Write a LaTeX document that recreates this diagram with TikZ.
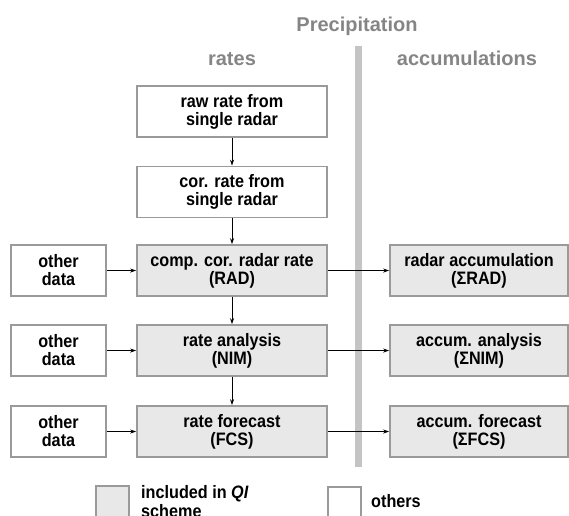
\documentclass[tikz,border=0pt]{standalone}
\usepackage{fontspec}
\setmainfont{Liberation Sans}
\newfontfamily\boxfont{Liberation Sans}[FakeStretch=0.9]
\usetikzlibrary{arrows.meta}
\definecolor{qifill}{HTML}{E8E8E8}
\definecolor{boxline}{HTML}{9A9A9A}
\definecolor{headgray}{HTML}{858585}
\definecolor{barcol}{HTML}{C4C4C4}
\tikzset{
  flowbox/.style = {draw=boxline, line width=1.6pt, minimum width=#1,
                    minimum height=51pt, inner sep=0pt, align=center,
                    font=\boxfont\bfseries\fontsize{18}{18}\selectfont},
  flowbox/.default = 190pt,
  qibox/.style = {flowbox=#1, fill=qifill},
  qibox/.default = 190pt,
  head/.style = {text=headgray, anchor=base, font=\bfseries\fontsize{20}{22}\selectfont},
  flow/.style = {-{Stealth[length=6pt,width=4pt]}, line width=0.8pt}
}
\begin{document}
\begin{tikzpicture}[x=1pt, y=-1pt]
	\useasboundingbox (0,0) rectangle (569,515);

	% Headings
	\node[head] (prec) at (357,31) {Precipitation};
	\node[head] (rates) at (232,65) {rates};
	\node[head] (accu) at (467,65) {accumulations};

	% Separator
	\fill[barcol] (355,46) rectangle (362,467);

	% Rates column
	\node[flowbox] (raw) at (232,111.5) {raw rate from\\single radar};
	\node[flowbox] (cor) at (232,192) {cor. rate from\\single radar};
	\node[qibox] (rad) at (232,270.5) {comp. cor. radar rate\\(RAD)};
	\node[qibox] (nim) at (232,350.5) {rate analysis\\(NIM)};
	\node[qibox] (fcs) at (232,431.5) {rate forecast\\(FCS)};

	% Other data
	\node[flowbox=95pt] (oth1) at (58.5,270.5) {other\\data};
	\node[flowbox=95pt] (oth2) at (58.5,350.5) {other\\data};
	\node[flowbox=95pt] (oth3) at (58.5,431.5) {other\\data};

	% Accumulations column
	\node[qibox=178pt] (srad) at (479,270.5) {radar accumulation\\(ΣRAD)};
	\node[qibox=178pt] (snim) at (479,350.5) {accum. analysis\\(ΣNIM)};
	\node[qibox=178pt] (sfcs) at (479,431.5) {accum. forecast\\(ΣFCS)};

	% Arrows
	\draw[flow] (raw) -- (cor);
	\draw[flow] (cor) -- (rad);
	\draw[flow] (rad) -- (nim);
	\draw[flow] (nim) -- (fcs);
	\draw[flow] (oth1) -- (rad);
	\draw[flow] (oth2) -- (nim);
	\draw[flow] (oth3) -- (fcs);
	\draw[flow] (rad) -- (srad);
	\draw[flow] (nim) -- (snim);
	\draw[flow] (fcs) -- (sfcs);

	% Legend
	\node[qibox=33pt, minimum height=33pt, anchor=north west] (keyqi) at (95,485) {};
	\node[anchor=north west, inner sep=0pt, align=left,
	      font=\boxfont\bfseries\fontsize{18}{19}\selectfont] (keyqitxt) at (141,485)
	      {included in \textit{QI}\\scheme};
	\node[flowbox=33pt, minimum height=33pt, anchor=north west] (keyoth) at (327,486) {};
	\node[anchor=base west, inner sep=0pt,
	      font=\boxfont\bfseries\fontsize{18}{18}\selectfont] (keyothtxt) at (371,507) {others};
\end{tikzpicture}
\end{document}
